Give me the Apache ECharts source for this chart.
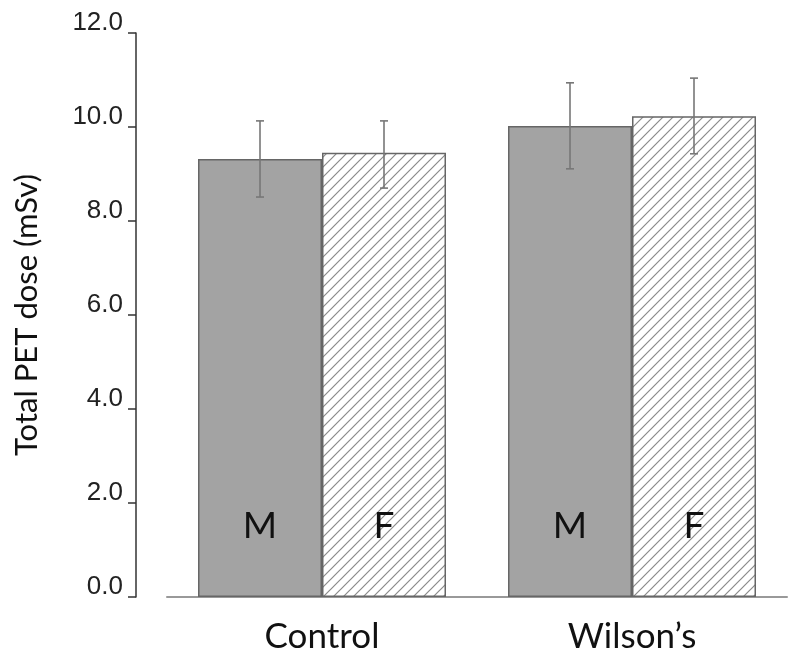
<!DOCTYPE html>
<html><head><meta charset="utf-8">
<script src="https://cdn.jsdelivr.net/npm/echarts@6/dist/echarts.min.js"></script>
<style>html,body{margin:0;padding:0;background:#fff}#c{width:800px;height:668px}</style>
</head><body><div id="c"></div>
<script>
const categories = ["Control", "Wilson\u2019s"];
const maleMean = [9.32, 10.02];
const maleLow = [8.51, 9.11];
const maleHigh = [10.13, 10.94];
const femaleMean = [9.45, 10.23];
const femaleLow = [8.70, 9.43];
const femaleHigh = [10.13, 11.04];
const seriesLabels = ["M", "F"];
const yTicks = [0, 2, 4, 6, 8, 10, 12];

// hatch pattern
const pc = document.createElement('canvas');
pc.width = 10; pc.height = 10;
const pctx = pc.getContext('2d');
pctx.fillStyle = '#fff'; pctx.fillRect(0,0,10,10);
pctx.strokeStyle = '#8a8a8a'; pctx.lineWidth = 1.2;
pctx.beginPath();
pctx.moveTo(0,10); pctx.lineTo(10,0);
pctx.moveTo(-5,5); pctx.lineTo(5,-5);
pctx.moveTo(5,15); pctx.lineTo(15,5);
pctx.stroke();

const chart = echarts.init(document.getElementById('c'), null, {renderer:'canvas'});

function errSeries(low, high, side) {
  return {
    type: 'custom',
    z: 10,
    data: categories.map((c, i) => [i, low[i], high[i]]),
    renderItem: function (params, api) {
      const band = api.size([1, 0])[0];
      const xc = api.coord([api.value(0), 0])[0] + side * band * 0.2;
      const yl = api.coord([api.value(0), api.value(1)])[1];
      const yh = api.coord([api.value(0), api.value(2)])[1];
      const cap = 4;
      const st = {stroke: '#777', lineWidth: 1.6};
      return {type: 'group', children: [
        {type: 'line', shape: {x1: xc, y1: yl, x2: xc, y2: yh}, style: st},
        {type: 'line', shape: {x1: xc - cap, y1: yh, x2: xc + cap, y2: yh}, style: st},
        {type: 'line', shape: {x1: xc - cap, y1: yl, x2: xc + cap, y2: yl}, style: st}
      ]};
    }
  };
}

const barLabel = (txt) => ({
  show: true, position: 'insideBottom', distance: 52,
  formatter: txt, fontSize: 37, color: '#111', fontFamily: 'Lato'
});

chart.setOption({
  animation: false,
  grid: {left: 167, right: 13, top: 33, bottom: 71, containLabel: false, outerBoundsMode: 'none'},
  xAxis: {
    type: 'category', data: categories,
    axisLine: {lineStyle: {color: '#999', width: 2}},
    axisTick: {show: false},
    axisLabel: {fontSize: 35, color: '#111', fontFamily: 'Lato', margin: 22}
  },
  yAxis: {
    type: 'value', min: 0, max: 12, interval: 2, offset: 31,
    name: 'Total PET dose (mSv)', nameLocation: 'middle', nameGap: 94,
    nameTextStyle: {fontSize: 31, color: '#111', fontFamily: 'Lato'},
    axisLine: {show: true, lineStyle: {color: '#333', width: 1.5}},
    axisTick: {show: true, length: 8, lineStyle: {color: '#333', width: 1.5}},
    splitLine: {show: false},
    axisLabel: {
      fontSize: 26, color: '#222', fontFamily: 'Liberation Sans', margin: 13,
      verticalAlign: 'bottom', lineHeight: 21,
      formatter: v => yTicks.includes(v) ? v.toFixed(1) : ''
    }
  },
  series: [
    {type: 'bar', name: seriesLabels[0], data: maleMean, barGap: '0%', barCategoryGap: '20%',
     itemStyle: {color: '#a3a3a3', borderColor: '#666', borderWidth: 1.5},
     label: barLabel(seriesLabels[0])},
    {type: 'bar', name: seriesLabels[1], data: femaleMean,
     itemStyle: {color: {image: pc, repeat: 'repeat'}, borderColor: '#666', borderWidth: 1.5},
     label: barLabel(seriesLabels[1])},
    errSeries(maleLow, maleHigh, -1),
    errSeries(femaleLow, femaleHigh, 1)
  ]
});
</script></body></html>
